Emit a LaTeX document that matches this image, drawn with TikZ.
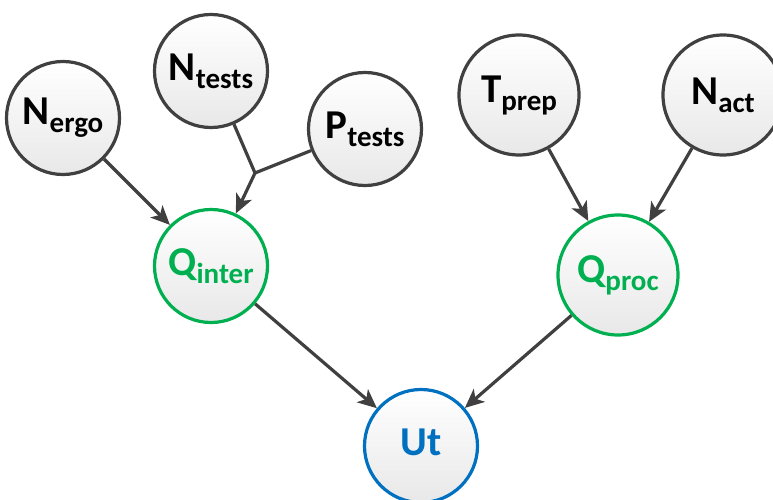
\documentclass[tikz,border=0pt]{standalone}
\usepackage{fontspec}
\setmainfont{Carlito}
\usetikzlibrary{arrows.meta}
\definecolor{edgegray}{HTML}{404040}
\definecolor{qgreen}{HTML}{00B050}
\definecolor{ublue}{HTML}{0070C0}
\definecolor{fillbot}{HTML}{E8E8E8}
\newcommand{\lbl}[2]{\bfseries{\fontsize{41}{41}\selectfont #1}\raisebox{-8pt}{\fontsize{29}{29}\selectfont #2}}
\tikzset{
  var/.style={circle, draw=edgegray, line width=3.2pt, minimum size=113pt, inner sep=0pt,
    shading=axis, top color=white, bottom color=fillbot, text=black},
  qvar/.style={var, draw=qgreen, text=qgreen},
  uvar/.style={var, draw=ublue, text=ublue},
  link/.style={draw=edgegray, line width=3.2pt},
  arr/.style={link, -{Stealth[length=19pt,width=17pt,inset=5pt]}},
}
\begin{document}
\begin{tikzpicture}[x=1pt,y=-1pt]
\useasboundingbox (0,0) rectangle (773,500);
\node[var] (nergo) at (63,118) {\lbl{N}{ergo}};
\node[var] (ntests) at (211,71) {\lbl{N}{tests}};
\node[var] (ptests) at (365,129) {\lbl{P}{tests}};
\node[var, minimum size=120pt] (tprep) at (519,95) {\lbl{T}{prep}};
\node[var, minimum size=120pt] (nact) at (723,95) {\lbl{N}{act}};
\node[qvar] (qinter) at (211,266) {\lbl{Q}{inter}};
\node[qvar, minimum size=120pt] (qproc) at (618,275) {\lbl{Q}{proc}};
\node[uvar] (ut) at (421,446) {\lbl{Ut}{}};
\coordinate (j) at (255,173);
\draw[link] (ntests) -- (j);
\draw[link] (ptests) -- (j);
\draw[arr] (j) -- (qinter);
\draw[arr] (nergo) -- (qinter);
\draw[arr] (tprep) -- (qproc);
\draw[arr] (nact) -- (qproc);
\draw[arr] (qinter) -- (ut);
\draw[arr] (qproc) -- (ut);
\end{tikzpicture}
\end{document}
